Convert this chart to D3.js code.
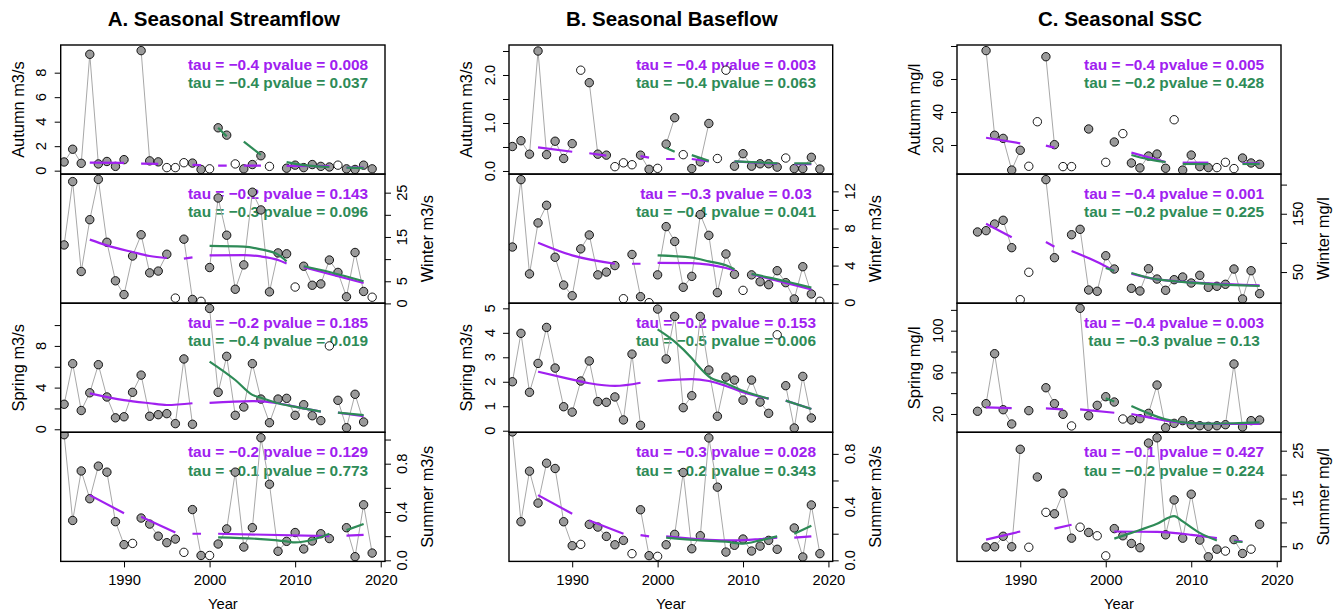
<!DOCTYPE html>
<html><head><meta charset="utf-8">
<script src="https://cdn.jsdelivr.net/npm/d3@7"></script>
<style>
body{margin:0;background:#fff}
text{font-family:"Liberation Sans",Arial,Helvetica,sans-serif}
</style>
</head><body>
<svg id="c" width="1340" height="613"></svg>
<script>
// ---------------- DATA ----------------
const yearsAB = d3.range(1983, 2020);   // 1983..2019
const yearsC  = d3.range(1985, 2019);   // 1985..2018

// open-circle years
const openAutumnAB = [1991,1995,1996,1997,2000,2003,2007,2008,2015];
const openWinterAB = [1996,1999,2010,2019];
const openSpringAB = [2014];
const openSummerAB = [1991,1997,2000];
const openAutumnC  = [1991,1992,1995,1996,2000,2002,2008,2013,2014,2015];
const openWinterC  = [1990,1991];
const openSpringC  = [1996,2002];
const openSummerC  = [1991,1993,1997,1999,2000,2014,2017];

// A. Streamflow (m3/s), 1983..2019
const A_autumn = [0.71,1.75,0.6,9.5,0.55,0.75,0.35,0.9,null,9.8,0.8,0.72,0.25,0.25,0.65,0.62,0.1,0.15,3.5,2.9,0.55,0.15,0.5,1.22,0.35,null,0.2,0.45,0.25,0.5,0.35,0.3,0.45,0.15,0.1,0.45,0.15];
const A_winter = [13.2,27.5,7.2,18.9,28,13.8,5.1,2.0,10.7,15.5,6.9,7.3,11.1,1.2,14.5,0.9,0.47,8.1,23.8,15.4,3.2,8.7,25.1,21.1,2.6,11.4,11.2,3.7,8.4,4.1,4.4,9.8,7.0,1.5,11.5,2.7,1.4];
const A_spring = [2.4,6.3,1.8,3.5,6.2,3.1,1.1,1.2,3.55,5.2,1.25,1.4,1.5,0.54,6.75,0.48,null,11.6,3.55,7.0,1.34,2.14,6.3,2.9,0.63,2.9,2.97,1.34,2.36,1.3,0.83,8.0,2.78,0.15,3.36,0.7,null];
const A_summer = [1.04,0.33,0.74,0.51,0.78,0.73,0.32,0.13,0.14,0.35,0.30,0.2,0.146,0.176,0.066,0.42,0.04,0.04,0.135,0.26,0.73,0.11,0.27,1.015,0.63,0.075,0.157,0.23,0.094,0.16,0.22,0.18,null,0.27,0.03,0.46,0.06];

// B. Baseflow (m3/s), 1983..2019
const B_autumn = [0.51,0.63,0.35,2.5,0.34,0.62,0.26,0.57,2.1,1.84,0.35,0.33,0.09,0.17,0.13,0.33,0.035,0.055,0.56,1.11,0.34,0.05,0.19,0.99,0.26,2.1,0.1,0.36,0.1,0.15,0.15,0.08,0.27,0.05,0.05,0.285,0.04];
const B_winter = [6.0,13.26,3.1,8.6,10.5,4.9,1.9,0.75,5.8,7.3,3.0,3.3,4.0,0.43,5.2,0.65,0.0,3.0,8.2,6.6,1.66,2.84,9.5,7.26,1.08,5.25,3.06,1.33,3.0,2.26,1.94,3.45,2.16,0.4,3.88,0.94,0.15];
const B_spring = [2.0,3.98,1.57,2.75,4.22,2.56,0.98,0.76,2.03,2.85,1.19,1.16,1.38,0.44,3.13,0.22,null,4.97,2.93,4.67,0.94,1.43,4.67,2.48,0.59,2.19,2.07,1.25,2.07,1.17,0.71,3.92,1.84,0.11,2.22,0.52,null];
const B_summer = [0.965,0.29,0.67,0.43,0.73,0.69,0.29,0.11,0.12,0.27,0.25,0.18,0.117,0.15,0.05,0.38,0.035,0.03,0.117,0.195,0.66,0.087,0.185,0.92,0.55,0.062,0.113,0.16,0.07,0.107,0.15,0.083,null,0.243,0.025,0.416,0.05];

// C. SSC (mg/l), 1985..2018
const C_autumn = [null,77.2,25.9,24.0,4.8,16.8,7.1,34.1,73.5,20.2,6.9,6.9,null,29.7,null,9.5,21.8,26.9,9.1,6.1,13.3,14.5,5.9,35.3,4.8,13.9,6.9,6.3,6.3,9.5,5.7,12.1,9.1,8.3];
const C_winter = [118.7,121,132.4,138.8,91.8,2.6,49.6,null,208.5,74.6,null,114,123.3,19.2,17,78,55.2,null,22.1,17.5,55.7,38,18.7,36.9,41.5,31.2,44.4,23.8,25.6,29,55.2,3.8,52.3,12.9];
const C_spring = [22.6,29.9,77.9,24.1,10.4,null,23.2,null,45.2,29.9,19.7,8.5,121.5,18.3,28.3,36.6,31.5,15.2,14.2,15.5,20.6,47.8,6.8,11,13.6,9.7,8.7,8.1,8.7,9.7,68,7.5,13.6,14.2];
const C_summer = [null,4.85,4.9,7.1,4.9,25.3,4.8,19.5,12.1,11.8,16.1,6.7,9.0,7.9,7.2,3.0,8.7,7.2,5.6,4.7,26.6,27.7,7.4,14.7,6.7,15.9,6.3,2.8,4.4,4.0,6.4,3.5,4.4,9.6];

// trend segments [year, value]  (P = purple, G = green)
const A_autumn_P = [[[1986,0.66],[1990,0.64]],[[1992,0.58],[1994,0.56]],[[1998,0.47],[1999,0.45]],[[2001,0.41],[2002,0.41]],[[2004,0.41],[2006,0.41]],[[2009,0.39],[2014,0.37]],[[2016,0.25],[2018,0.25]]];
const A_autumn_G = [[[2001,3.5],[2002,2.8]],[[2004,2.37],[2006,1.28]],[[2009,0.7],[2011,0.45],[2014,0.3]],[[2016,0.25],[2018,0.2]]];
const A_winter_P = [[[1986,14.4],[1988,13.1],[1991,11.6],[1993,10.7],[1995,10.25]],[[1997,10.1],[1998,10.4]],[[2000,10.85],[2004,10.9],[2006,10.6],[2008,9.8],[2009,9.0]],[[2011,8.2],[2018,4.6]]];
const A_winter_G = [[[2000,13.0],[2004,12.8],[2006,12.2],[2008,11.0],[2009,9.5]],[[2011,8.4],[2014,7.1],[2018,5.0]]];
const A_spring_P = [[[1986,3.45],[1990,2.8],[1993,2.5],[1995,2.33],[1998,2.5]],[[2000,2.53],[2005,2.7],[2008,2.5],[2011,2.0],[2013,1.7]],[[2015,1.6],[2018,1.27]]];
const A_spring_G = [[[2000,6.5],[2003,4.73],[2005,3.3],[2006,3.03],[2008,2.5],[2011,2.0],[2013,1.7]],[[2015,1.6],[2018,1.35]]];
const A_summer_P = [[[1986,0.54],[1990,0.39]],[[1992,0.36],[1996,0.23]],[[1998,0.22],[1999,0.22]],[[2001,0.22],[2014,0.2]],[[2016,0.205],[2018,0.21]]];
const A_summer_G = [[[2001,0.19],[2006,0.176],[2009,0.157],[2010,0.148],[2012,0.17],[2014,0.22]],[[2016,0.25],[2018,0.30]]];

const B_autumn_P = [[[1986,0.49],[1990,0.40]],[[1992,0.37],[1994,0.32]],[[1998,0.31],[1999,0.28]],[[2001,0.25],[2002,0.25]],[[2004,0.25],[2006,0.2]],[[2009,0.2],[2014,0.15]],[[2016,0.14],[2018,0.14]]];
const B_autumn_G = [[[2001,0.48],[2002,0.4]],[[2004,0.33],[2006,0.21]],[[2009,0.2],[2014,0.16]],[[2016,0.16],[2018,0.16]]];
const B_winter_P = [[[1986,6.47],[1990,5.1],[1995,4.2]],[[1997,4.2],[1998,4.2]],[[2000,4.3],[2004,4.27],[2006,4.1],[2008,3.74],[2009,3.5]],[[2011,3.06],[2018,1.44]]];
const B_winter_G = [[[2000,5.1],[2004,4.85],[2006,4.46],[2008,4.03],[2009,3.6]],[[2011,3.1],[2014,2.52],[2018,1.62]]];
const B_spring_P = [[[1986,2.41],[1989,2.17],[1992,1.94],[1995,1.83],[1998,1.96]],[[2000,2.03],[2004,2.11],[2006,2.03],[2008,1.83],[2010,1.57],[2013,1.31]],[[2015,1.23],[2018,0.89]]];
const B_spring_G = [[[2000,4.14],[2002,3.64],[2004,2.96],[2005,2.55],[2006,2.21],[2008,1.94],[2010,1.63],[2013,1.31]],[[2015,1.23],[2018,0.89]]];
const B_summer_P = [[[1986,0.49],[1990,0.35]],[[1992,0.3],[1996,0.2]],[[1998,0.19],[1999,0.18]],[[2001,0.18],[2006,0.154],[2009,0.15],[2012,0.16],[2014,0.17]],[[2016,0.17],[2018,0.18]]];
const B_summer_G = [[[2001,0.17],[2005,0.15],[2008,0.14],[2010,0.126],[2012,0.15],[2014,0.18]],[[2016,0.2],[2018,0.26]]];

const C_autumn_P = [[[1986,24.4],[1990,21.0]],[[1993,19.6],[1994,18.4]],[[2003,15.4],[2007,9.7]],[[2009,9.3],[2012,9.3]],[[2016,8.9],[2018,8.9]]];
const C_autumn_G = [[[2003,13.9],[2005,11.3],[2007,9.7]],[[2009,8.5],[2012,8.5]],[[2016,8.5],[2018,8.5]]];
const C_winter_P = [[[1986,133],[1989,109.6]],[[1993,101.5],[1994,93.5]],[[1996,86],[1999,67.2],[2001,51.8]],[[2003,47.2],[2006,37.5],[2018,27.2]]];
const C_winter_G = [[[2000,57],[2001,52]],[[2003,48.3],[2006,37.5],[2018,26.1]]];
const C_spring_P = [[[1986,26.4],[1989,25.7]],[[1993,25.3],[1995,24.4]],[[1997,24.4],[2001,21.2]],[[2003,20],[2005,16.8],[2007,13.6],[2010,11],[2014,10.4],[2018,10.4]]];
const C_spring_G = [[[2000,35],[2001,32]],[[2003,27.7],[2005,20.6],[2007,14.9],[2009,12],[2012,10.8],[2015,11.1],[2018,12]]];
const C_summer_P = [[[1986,6.4],[1990,8.1]],[[1994,8.7],[1996,9.5]],[[2001,8.1],[2006,8.0],[2010,7.4],[2013,6.7]],[[2015,6.2],[2016,6.0]]];
const C_summer_G = [[[2001,6.6],[2003,7.8],[2006,9.7],[2008,11.3],[2009,10.2],[2011,7.8],[2013,6.2]],[[2015,6.0],[2016,5.9]]];

// Mann-Kendall annotations
const tauA = [["tau = \u22120.4 pvalue = 0.008","tau = \u22120.4 pvalue = 0.037"],["tau = \u22120.2 pvalue = 0.143","tau = \u22120.3 pvalue = 0.096"],["tau = \u22120.2 pvalue = 0.185","tau = \u22120.4 pvalue = 0.019"],["tau = \u22120.2 pvalue = 0.129","tau = \u22120.1 pvalue = 0.773"]];
const tauB = [["tau = \u22120.4 pvalue = 0.003","tau = \u22120.4 pvalue = 0.063"],["tau = \u22120.3 pvalue = 0.03","tau = \u22120.4 pvalue = 0.041"],["tau = \u22120.2 pvalue = 0.153","tau = \u22120.5 pvalue = 0.006"],["tau = \u22120.3 pvalue = 0.028","tau = \u22120.2 pvalue = 0.343"]];
const tauC = [["tau = \u22120.4 pvalue = 0.005","tau = \u22120.2 pvalue = 0.428"],["tau = \u22120.4 pvalue = 0.001","tau = \u22120.2 pvalue = 0.225"],["tau = \u22120.4 pvalue = 0.003","tau = \u22120.3 pvalue = 0.13"],["tau = \u22120.1 pvalue = 0.427","tau = \u22120.2 pvalue = 0.224"]];

const titles = ["A. Seasonal Streamflow","B. Seasonal Baseflow","C. Seasonal SSC"];
const seasons = ["Autumn","Winter","Spring","Summer"];
const unitsAB = "m3/s", unitsC = "mg/l";
const xTicks = [1990,2000,2010,2020];

// y ticks (all) and labelled ticks per panel
const ticksA = [[0,2,4,6,8],[0,5,10,15,20,25],[0,2,4,6,8,10],[0,0.2,0.4,0.6,0.8,1.0]];
const labsA  = [[0,2,4,6,8],[0,5,15,25],[0,4,8],[0,0.4,0.8]];
const ticksB = [[0,0.5,1,1.5,2,2.5],[0,2,4,6,8,10,12],[0,1,2,3,4,5],[0,0.2,0.4,0.6,0.8]];
const labsB  = [[0,1,2],[0,4,8,12],[0,1,2,3,4,5],[0,0.4,0.8]];
const ticksC = [[20,40,60,80],[50,100,150,200],[20,40,60,80,100,120],[5,10,15,20,25]];
const labsC  = [[20,40,60],[50,150],[20,60,100],[5,15,25]];

// ---------------- LAYOUT ----------------
const colX = [[60.7,385],[509,832.7],[957,1281]];
const rowY = [[45,174.1],[174.1,303.2],[303.2,432.3],[432.3,561.4]];
const xDomain = [1982.6,2020.5];
const yDomains = [
  [[-0.28,10.26],[0.05,29.19],[-0.29,12.10],[-0.009,1.06]],
  [[-0.065,2.625],[-0.054,13.86],[-0.065,5.21],[-0.008,0.962]],
  [[2.36,80.6],[-3.43,218],[2.4,126.4],[1.84,28.85]]
];
const fmts = [
  [d3.format("d"),d3.format("d"),d3.format("d"),d3.format(".1f")],
  [d3.format(".1f"),d3.format("d"),d3.format("d"),d3.format(".1f")],
  [d3.format("d"),d3.format("d"),d3.format("d"),d3.format("d")]
];
const PURPLE="#A020F0", GREEN="#2E8B57";

const cols = [
  {years:yearsAB, vals:[A_autumn,A_winter,A_spring,A_summer], open:[openAutumnAB,openWinterAB,openSpringAB,openSummerAB],
   P:[A_autumn_P,A_winter_P,A_spring_P,A_summer_P], G:[A_autumn_G,A_winter_G,A_spring_G,A_summer_G], tau:tauA, ticks:ticksA, labs:labsA, unit:unitsAB},
  {years:yearsAB, vals:[B_autumn,B_winter,B_spring,B_summer], open:[openAutumnAB,openWinterAB,openSpringAB,openSummerAB],
   P:[B_autumn_P,B_winter_P,B_spring_P,B_summer_P], G:[B_autumn_G,B_winter_G,B_spring_G,B_summer_G], tau:tauB, ticks:ticksB, labs:labsB, unit:unitsAB},
  {years:yearsC, vals:[C_autumn,C_winter,C_spring,C_summer], open:[openAutumnC,openWinterC,openSpringC,openSummerC],
   P:[C_autumn_P,C_winter_P,C_spring_P,C_summer_P], G:[C_autumn_G,C_winter_G,C_spring_G,C_summer_G], tau:tauC, ticks:ticksC, labs:labsC, unit:unitsC}
];

const svg = d3.select("#c");
const defs = svg.append("defs");

cols.forEach((c, ci) => {
  const [x0,x1] = colX[ci];
  const x = d3.scaleLinear().domain(xDomain).range([x0,x1]);

  // title
  svg.append("text").attr("x",(x0+x1)/2+1).attr("y",26)
    .attr("text-anchor","middle").attr("font-weight","bold").attr("font-size",20.5)
    .text(titles[ci]);

  for (let r = 0; r < 4; r++) {
    const [yt,yb] = rowY[r];
    const y = d3.scaleLinear().domain(yDomains[ci][r]).range([yb,yt]);
    const id = `clip${ci}${r}`;
    defs.append("clipPath").attr("id",id).append("rect")
      .attr("x",x0).attr("y",yt).attr("width",x1-x0).attr("height",yb-yt);
    const g = svg.append("g");
    const inner = g.append("g").attr("clip-path",`url(#${id})`);

    // annotations (drawn first, under data)
    [PURPLE,GREEN].forEach((col,k)=>{
      inner.append("text").attr("x",x(2008)).attr("y",yt+24.5+k*18.7)
        .attr("text-anchor","middle").attr("font-weight","bold").attr("font-size",15.4)
        .attr("fill",col).text(c.tau[r][k]);
    });

    const open = c.open[r];
    const data = c.years.map((yr,i)=>({yr, v:c.vals[r][i], open:open.includes(yr)}));

    inner.append("path").datum(data)
      .attr("d", d3.line().defined(d=>d.v!=null && !d.open).x(d=>x(d.yr)).y(d=>y(d.v)))
      .attr("fill","none").attr("stroke","#a8a8a8").attr("stroke-width",1);

    inner.selectAll("circle.pt").data(data.filter(d=>d.v!=null)).join("circle")
      .attr("class","pt").attr("cx",d=>x(d.yr)).attr("cy",d=>y(d.v)).attr("r",4.2)
      .attr("fill",d=>d.open?"#ffffff":"#9a9a9a").attr("stroke","#000").attr("stroke-width",0.9);

    const tl = d3.line().x(d=>x(d[0])).y(d=>y(d[1])).curve(d3.curveMonotoneX);
    c.P[r].forEach(seg=>inner.append("path").attr("d",tl(seg)).attr("fill","none").attr("stroke",PURPLE).attr("stroke-width",2.2));
    c.G[r].forEach(seg=>inner.append("path").attr("d",tl(seg)).attr("fill","none").attr("stroke",GREEN).attr("stroke-width",2.2));

    // box
    g.append("rect").attr("x",x0).attr("y",yt).attr("width",x1-x0).attr("height",yb-yt)
      .attr("fill","none").attr("stroke","#000").attr("stroke-width",1.4);

    // y axis
    const left = (r % 2 === 0);
    const ax = (left ? d3.axisLeft(y) : d3.axisRight(y)).tickValues(c.ticks[r]).tickSize(6).tickFormat("");
    const ag = g.append("g").attr("transform",`translate(${left?x0:x1},0)`).call(ax);
    ag.select(".domain").remove();
    ag.selectAll(".tick line").attr("stroke","#000").attr("stroke-width",1);
    const f = fmts[ci][r];
    c.labs[r].forEach(v=>{
      const px = left ? x0-14.5 : x1+22;
      g.append("text").attr("transform",`translate(${px},${y(v)}) rotate(-90)`)
        .attr("text-anchor","middle").attr("font-size",14.7).text(f(v));
    });
    // y label
    const lx = left ? x0-37 : x1+48;
    g.append("text").attr("transform",`translate(${lx},${(yt+yb)/2}) rotate(-90)`)
      .attr("text-anchor","middle").attr("font-size",16.4).text(`${seasons[r]} ${c.unit}`);

    // x axis on bottom row
    if (r === 3) {
      const xa = d3.axisBottom(x).tickValues(xTicks).tickSize(6).tickFormat(d3.format("d"));
      const xg = g.append("g").attr("transform",`translate(0,${yb})`).call(xa);
      xg.select(".domain").remove();
      xg.selectAll(".tick line").attr("stroke","#000");
      xg.selectAll(".tick text").attr("font-size",14.7).attr("font-family","Liberation Sans, Arial, sans-serif")
        .attr("fill","#000").attr("y",null).attr("dy",null).attr("transform","translate(0,23.3)");
      svg.append("text").attr("x",(x0+x1)/2).attr("y",609).attr("text-anchor","middle")
        .attr("font-size",14.8).text("Year");
    }
  }
});
</script>
</body></html>
